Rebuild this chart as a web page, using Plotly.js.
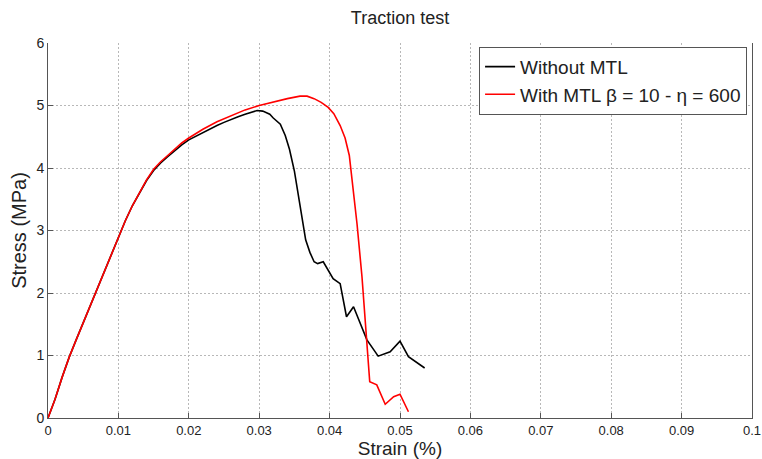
<!DOCTYPE html>
<html>
<head>
<meta charset="utf-8">
<script src="https://cdn.plot.ly/plotly-3.0.1.min.js"></script>
<style>html,body{margin:0;padding:0;background:#fff;}#chart{width:762px;height:459px;}</style>
</head>
<body>
<div id="chart"></div>
<script>
// Without MTL
const strainWithout = [0, 0.001, 0.002, 0.003, 0.004, 0.005, 0.006, 0.007, 0.008, 0.009, 0.010, 0.011, 0.012, 0.013, 0.014, 0.015, 0.016, 0.017, 0.018, 0.019, 0.020, 0.021, 0.022, 0.023, 0.024, 0.025, 0.026, 0.027, 0.028, 0.029, 0.0297, 0.0305, 0.0315, 0.032, 0.033, 0.0337, 0.0343, 0.035, 0.0355, 0.036, 0.0366, 0.0372, 0.0378, 0.0383, 0.0391, 0.0405, 0.0415, 0.0424, 0.0434, 0.0453, 0.0469, 0.0486, 0.05, 0.0512, 0.0526, 0.0535];
const stressWithout = [0, 0.3, 0.65, 0.97, 1.25, 1.52, 1.8, 2.08, 2.36, 2.63, 2.9, 3.16, 3.4, 3.6, 3.8, 3.96, 4.08, 4.18, 4.28, 4.37, 4.45, 4.51, 4.57, 4.63, 4.68, 4.73, 4.78, 4.82, 4.86, 4.9, 4.92, 4.91, 4.86, 4.8, 4.7, 4.52, 4.3, 3.95, 3.6, 3.2, 2.85, 2.65, 2.5, 2.47, 2.5, 2.23, 2.15, 1.62, 1.78, 1.25, 0.99, 1.06, 1.23, 0.98, 0.875, 0.8];
// With MTL beta = 10 - eta = 600
const strainWith = [0, 0.001, 0.002, 0.003, 0.004, 0.005, 0.006, 0.007, 0.008, 0.009, 0.010, 0.011, 0.012, 0.013, 0.014, 0.015, 0.016, 0.017, 0.018, 0.019, 0.020, 0.022, 0.024, 0.026, 0.028, 0.030, 0.032, 0.034, 0.0358, 0.0368, 0.0378, 0.0388, 0.0398, 0.0406, 0.0415, 0.0422, 0.0428, 0.0432, 0.0439, 0.0446, 0.0453, 0.0457, 0.0467, 0.0479, 0.0491, 0.05, 0.0512];
const stressWith = [0, 0.3, 0.65, 0.97, 1.25, 1.52, 1.8, 2.08, 2.36, 2.63, 2.9, 3.16, 3.4, 3.61, 3.81, 3.98, 4.1, 4.2, 4.3, 4.4, 4.48, 4.62, 4.74, 4.84, 4.93, 5.0, 5.06, 5.11, 5.15, 5.15, 5.11, 5.05, 4.97, 4.87, 4.68, 4.48, 4.2, 3.8, 3.1, 2.26, 1.25, 0.58, 0.53, 0.22, 0.34, 0.38, 0.1];
const xTicks = [0, 0.01, 0.02, 0.03, 0.04, 0.05, 0.06, 0.07, 0.08, 0.09, 0.1];
const xTickText = ['0', '0.01', '0.02', '0.03', '0.04', '0.05', '0.06', '0.07', '0.08', '0.09', '0.1'];
const yTicks = [0, 1, 2, 3, 4, 5, 6];

const font = 'Liberation Sans, Arial, sans-serif';
const traces = [
  {x: strainWithout, y: stressWithout, mode: 'lines', name: 'Without MTL', line: {color: '#000000', width: 1.6}},
  {x: strainWith, y: stressWith, mode: 'lines', name: 'With MTL \u03B2 = 10 - \u03B7 = 600', line: {color: '#ff0000', width: 1.6}}
];
const layout = {
  width: 762, height: 459,
  margin: {l: 48, r: 10, t: 43, b: 41},
  paper_bgcolor: '#ffffff', plot_bgcolor: '#ffffff',
  font: {family: font, color: '#222'},
  title: {text: 'Traction test', x: 0.5, xref: 'paper', y: 0.962, yref: 'container', yanchor: 'middle', font: {size: 18, family: font, color: '#222'}},
  xaxis: {
    range: [0, 0.1], tickvals: xTicks, ticktext: xTickText,
    showgrid: true, gridcolor: '#b8b8b8', griddash: '2px,2px', gridwidth: 1,
    zeroline: false, showline: true, linecolor: '#555', linewidth: 1, mirror: false,
    ticks: 'inside', ticklen: 5, tickcolor: '#555',
    tickfont: {size: 13, family: font, color: '#222'},
    title: {text: 'Strain (%)', font: {size: 19, family: font, color: '#222'}, standoff: 5}
  },
  yaxis: {
    range: [0, 6], tickvals: yTicks,
    showgrid: true, gridcolor: '#b8b8b8', griddash: '2px,2px', gridwidth: 1,
    zeroline: false, showline: true, linecolor: '#555', linewidth: 1, mirror: true,
    ticks: 'inside', ticklen: 5, tickcolor: '#555',
    tickfont: {size: 14, family: font, color: '#222'},
    title: {text: 'Stress (MPa)', font: {size: 20, family: font, color: '#222'}, standoff: 4}
  },
  legend: {
    x: 0.993, xanchor: 'right', y: 0.99, yanchor: 'top',
    bgcolor: '#ffffff', bordercolor: '#555', borderwidth: 1,
    font: {size: 19, family: font, color: '#222'},
    itemwidth: 30, tracegroupgap: 0
  },
  showlegend: true
};
Plotly.newPlot('chart', traces, layout, {displayModeBar: false, staticPlot: true});
</script>
</body>
</html>
